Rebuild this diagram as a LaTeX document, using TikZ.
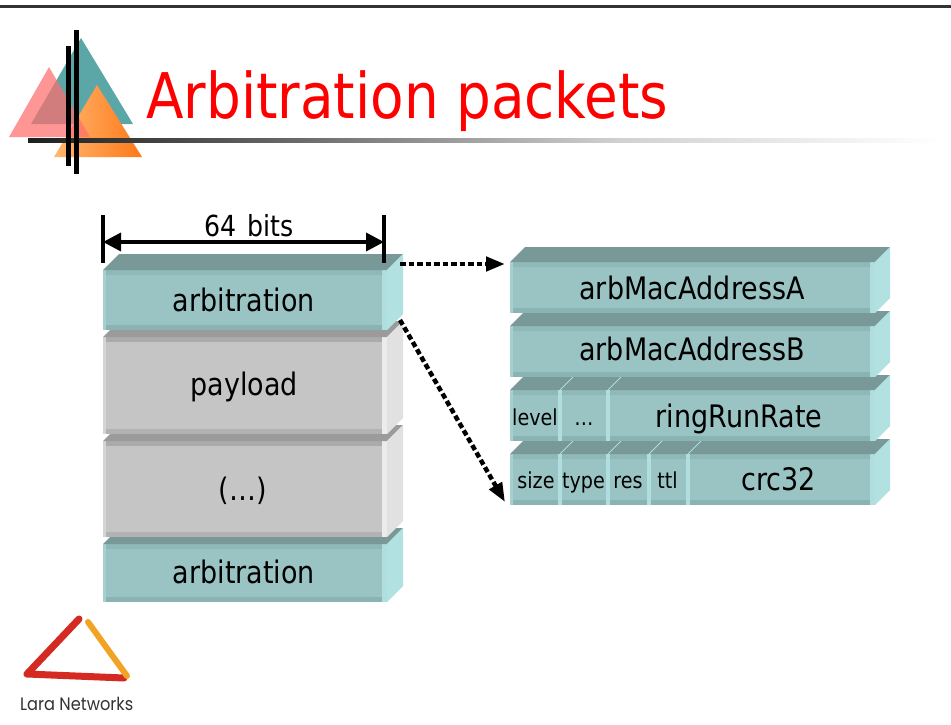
\documentclass[tikz,border=0pt]{standalone}
\usepackage{fontspec}
\usetikzlibrary{arrows.meta,calc}
\newfontfamily\tahfont[FakeStretch=0.87]{DejaVu Sans}
\newfontfamily\larafont[FakeStretch=0.9]{Poppins}

\definecolor{tealfront}{HTML}{9AC4C4}
\definecolor{tealtop}{HTML}{789998}
\definecolor{tealside}{HTML}{B2E1E1}
\definecolor{tealhi}{HTML}{B0DEDE}
\definecolor{tealleft}{HTML}{A6D0D0}
\definecolor{tealdark}{HTML}{8AB3B3}
\definecolor{tealband}{HTML}{8FB8B8}
\definecolor{grayfront}{HTML}{C5C5C5}
\definecolor{graytop}{HTML}{9B9B9B}
\definecolor{grayside}{HTML}{E1E1E1}
\definecolor{grayhi}{HTML}{ECECEC}
\definecolor{grayleft}{HTML}{D4D4D4}
\definecolor{graydark}{HTML}{B2B2B2}
\definecolor{grayband}{HTML}{ABABAB}
\definecolor{titlered}{HTML}{FF0000}
\definecolor{topline}{HTML}{333333}
\definecolor{logoteal}{HTML}{3F9898}
\definecolor{logopink}{HTML}{FF6E6E}
\definecolor{orangeL}{HTML}{FFB870}
\definecolor{orangeR}{HTML}{FF7818}
\definecolor{larared}{HTML}{D42A22}
\definecolor{laraorange}{HTML}{F2A323}
\definecolor{laragray}{HTML}{333333}

% front face of a slab, with a bevelled rim drawn inside it
\tikzset{
  slabfront/.style n args={5}{% fill, band, bottom, left, right
    fill=#1, draw=none, inner sep=0pt, outer sep=0pt, anchor=north west,
    path picture={
      \fill[#2] (path picture bounding box.north west) rectangle ([yshift=-5pt]path picture bounding box.north east);
      \fill[#3] ([yshift=5pt]path picture bounding box.south west) rectangle (path picture bounding box.south east);
      \fill[#4] (path picture bounding box.north west) rectangle ([xshift=3pt]path picture bounding box.south west);
      \fill[#5] ([xshift=-5pt]path picture bounding box.north east) rectangle (path picture bounding box.south east);
    }},
  tealslab/.style={slabfront={tealfront}{tealband}{tealdark}{tealleft}{tealhi}},
  grayslab/.style={slabfront={grayfront}{grayband}{graydark}{grayleft}{grayhi}},
  lbl/.style={font=\tahfont\fontsize{31}{31}\selectfont, inner sep=0pt, anchor=base},
  smalllbl/.style={font=\tahfont\fontsize{22}{22}\selectfont, inner sep=0pt, anchor=base},
  dotarrow/.style={line width=4.5pt, dash pattern=on 5.5pt off 3pt,
    -{Triangle[length=19pt,width=14pt]}},
  dimtick/.style={line width=4pt},
  dimarrow/.style={line width=3.5pt, {Triangle[length=18pt,width=18pt]}-{Triangle[length=18pt,width=18pt]}},
  divider/.style={fill=tealhi},
}

% top and right faces of a slab whose front face is node #1
\newcommand\slabfaces[4]{%
  \fill[#3] (#1.north west) -- ++(#2,-#2) -- ([shift={(#2,-#2)}]#1.north east) -- (#1.north east) -- cycle;
  \fill[#4] (#1.north east) -- ++(#2,-#2) -- ([shift={(#2,-#2)}]#1.south east) -- (#1.south east) -- cycle;}

\begin{document}
\begin{tikzpicture}[x=1pt,y=-1pt]
\fill[white] (0,0) rectangle (951,725);
\useasboundingbox (0,0) rectangle (951,725);

% header rule
\fill[topline] (0,4.8) rectangle (951,7.6);

% logo triangles
\fill[logoteal, opacity=0.85] (31,124) -- (81,38) -- (133,124) -- cycle;
\shade[left color=orangeL, right color=orangeR] (54,157) -- (97,85) -- (142,157) -- cycle;
\fill[logopink, opacity=0.72] (9,137) -- (49,67) -- (90,137) -- cycle;

% title underline fading to white
\shade[left color=black!88, right color=black!58] (28,138) rectangle (300,142.5);
\shade[left color=black!58, right color=black!18] (300,138) rectangle (620,142.5);
\shade[left color=black!18, right color=white] (620,138) rectangle (940,142.5);

% logo bars
\fill[black] (66,46) rectangle (70.5,166);
\fill[black] (74,30) rectangle (78.5,174);

% title
\node[font=\tahfont\fontsize{63}{63}\selectfont, text=titlered, anchor=base west, inner sep=0pt]
  (title) at (146,118) {Arbitration packets};

% left stack, drawn bottom to top
\node[tealslab, minimum width=284pt, minimum height=58pt] (b4) at (103,544) {};
\slabfaces{b4}{16}{tealtop}{tealside}
\node[grayslab, minimum width=284pt, minimum height=96pt] (b3) at (103,441) {};
\slabfaces{b3}{16}{graytop}{grayside}
\node[grayslab, minimum width=284pt, minimum height=97pt] (b2) at (103,337) {};
\slabfaces{b2}{16}{graytop}{grayside}
\node[tealslab, minimum width=284pt, minimum height=60pt] (b1) at (103,270) {};
\slabfaces{b1}{16}{tealtop}{tealside}

\node[lbl] (t1) at (244,311) {arbitration};
\node[lbl] (t2) at (244,395) {payload};
\node[lbl] (t3) at (243,500) {(…)};
\node[lbl] (t4) at (244,583) {arbitration};

% 64-bit width dimension
\coordinate (dimL) at (103,242);
\coordinate (dimR) at (384,242);
\draw[dimtick] ($(dimL)+(0,-27)$) -- ($(dimL)+(0,21)$);
\draw[dimtick] ($(dimR)+(0,-27)$) -- ($(dimR)+(0,21)$);
\draw[dimarrow] (dimL) -- (dimR);
\node[font=\tahfont\fontsize{29}{29}\selectfont, inner sep=0pt, anchor=base] (dimtxt) at (249,236) {64\hspace{3pt} bits};

% right stack, drawn bottom to top
\node[tealslab, minimum width=365pt, minimum height=51pt] (rd) at (510,454) {};
\slabfaces{rd}{15}{tealtop}{tealside}
\node[tealslab, minimum width=365pt, minimum height=51pt] (rc) at (510,390) {};
\slabfaces{rc}{15}{tealtop}{tealside}
\node[tealslab, minimum width=365pt, minimum height=51pt] (rb) at (510,326) {};
\slabfaces{rb}{15}{tealtop}{tealside}
\node[tealslab, minimum width=365pt, minimum height=51pt] (ra) at (510,262) {};
\slabfaces{ra}{15}{tealtop}{tealside}

% field dividers
\foreach \x in {558,606} {
  \fill[divider] (\x,390) rectangle (\x+4,441);
  \draw[tealhi, line width=0.8pt] (\x+2,390) -- ++(13,-13);
}
\foreach \x in {558,606,647,686} {
  \fill[divider] (\x,454) rectangle (\x+4,505);
  \draw[tealhi, line width=0.8pt] (\x+2,454) -- ++(13,-13);
}

\node[lbl] (fa) at (692,299) {arbMacAddressA};
\node[lbl] (fb) at (692,360) {arbMacAddressB};
\node[smalllbl] (flevel) at (535,425) {level};
\node[smalllbl] (fdots) at (584,425) {…};
\node[lbl] (frate) at (739,427) {ringRunRate};
\node[smalllbl] (fsize) at (536,488) {size};
\node[smalllbl] (ftype) at (583.5,488) {type};
\node[smalllbl] (fres) at (628,488) {res};
\node[smalllbl] (fttl) at (667.5,488) {ttl};
\node[lbl] (fcrc) at (778.5,490) {crc32};

% expansion arrows
\coordinate (hs) at ($(b1.north east)+(13,-6)$);
\coordinate (he) at ($(ra.north west)+(-5,2)$);
\coordinate (ds) at ($(b1.south east)+(13,-10)$);
\coordinate (de) at ($(rd.south west)+(-5,-3)$);
\draw[dotarrow] (hs) -- (he);
\draw[dotarrow] (ds) -- (de);

% company logo
\draw[larared, line width=7pt, line cap=round, line join=round] (79,619) -- (27,674) -- (124,678);
\draw[laraorange, line width=6pt, line cap=round] (88,622) -- (127,676);
\node[font=\larafont\fontsize{18}{18}\selectfont, text=laragray, anchor=base west, inner sep=0pt]
  (lara) at (20,710) {Lara Networks};
\end{tikzpicture}
\end{document}
